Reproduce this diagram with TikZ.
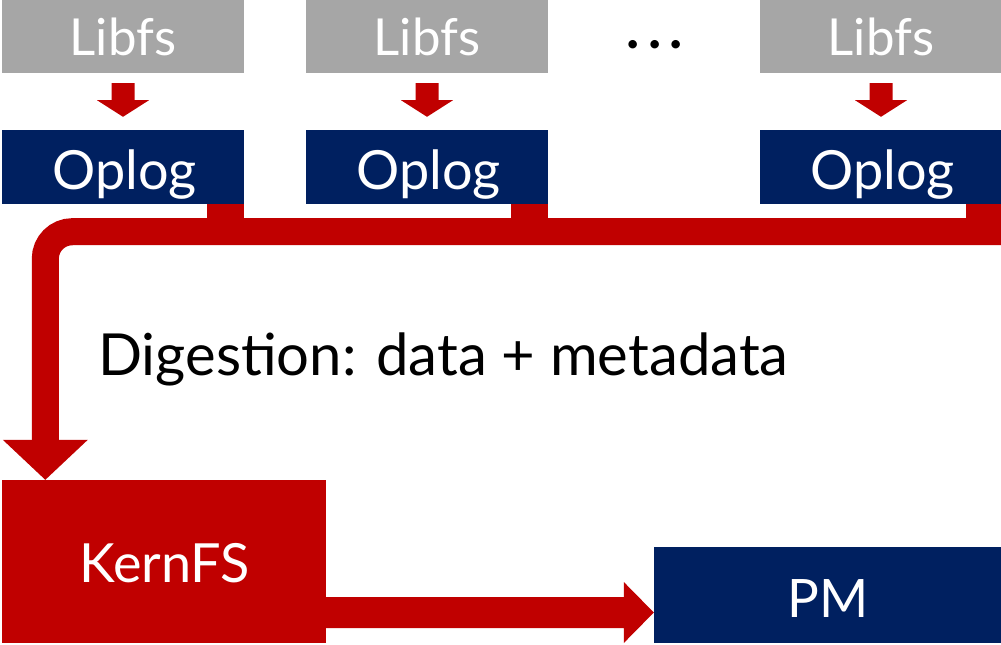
\documentclass[tikz,border=0pt]{standalone}
\usepackage{fontspec}
\setmainfont{Lato}
\usetikzlibrary{calc}
\definecolor{libgray}{HTML}{A6A6A6}
\definecolor{navy}{HTML}{002060}
\definecolor{darkred}{HTML}{C00000}
\tikzset{
  libbox/.style={fill=libgray, inner sep=0pt, minimum width=242pt, minimum height=73pt},
  logbox/.style={fill=navy, inner sep=0pt, minimum width=242pt, minimum height=74pt},
  lbl/.style={anchor=base, inner sep=0pt, text=white, font=\fontsize{51}{51}\selectfont},
  loglbl/.style={lbl, font=\fontsize{54}{54}\selectfont},
  big/.style={anchor=base west, inner sep=0pt, font=\fontsize{58}{58}\selectfont},
  redfill/.style={fill=darkred, draw=none},
  bus/.style={draw=darkred, line width=27pt, rounded corners=27pt}
}
\begin{document}
\begin{tikzpicture}[x=1pt, y=-1pt]
\useasboundingbox (0,0) rectangle (1001,645);

% client libraries
\node[libbox] (lib1) at (123,36.5) {};
\node[libbox] (lib2) at (427,36.5) {};
\node[libbox] (lib3) at (881,36.5) {};
\node[lbl] (lib1t) at (123,55) {Libfs};
\node[lbl] (lib2t) at (427,55) {Libfs};
\node[lbl] (lib3t) at (881,55) {Libfs};
\node[anchor=base, inner sep=0pt, font=\bfseries\fontsize{56}{56}\selectfont] (dots) at (655,48)
  {\makebox[21.5pt]{.}\makebox[21.5pt]{.}\makebox[21.5pt]{.}};

% operation logs
\node[logbox] (log1) at (123,167) {};
\node[logbox] (log2) at (427,167) {};
\node[logbox] (log3) at (881,167) {};
\node[loglbl] (log1t) at (124.5,189) {Oplog};
\node[loglbl] (log2t) at (428.5,189) {Oplog};
\node[loglbl] (log3t) at (882.5,189) {Oplog};

% short arrows from each Libfs to its Oplog
\foreach \i in {1,2,3}{
  \fill[darkred] ($(lib\i.south)+(-11.5,10)$) -- ($(lib\i.south)+(11.5,10)$)
    -- ($(lib\i.south)+(11.5,27)$) -- ($(lib\i.south)+(26,27)$)
    -- ($(log\i.north)+(0,-13)$) -- ($(lib\i.south)+(-26,27)$)
    -- ($(lib\i.south)+(-11.5,27)$) -- cycle;
}

% kernel file system and persistent memory
\node[fill=darkred, inner sep=0pt, minimum width=324pt, minimum height=163pt] (kern) at (164,561.5) {};
\node[fill=navy, inner sep=0pt, minimum width=347pt, minimum height=96pt] (pm) at (827.5,595) {};
\node[lbl, font=\fontsize{54}{54}\selectfont] (kernt) at (164.5,582) {KernFS};
\node[lbl, font=\fontsize{53}{53}\selectfont] (pmt) at (828,617) {PM};

% stems from each Oplog down to the shared bus
\fill[darkred] ($(log1.south east)+(-37,0)$) rectangle ($(log1.south east)+(0,14)$);
\fill[darkred] ($(log2.south east)+(-37,0)$) rectangle ($(log2.south east)+(0,14)$);
\fill[darkred] ($(log3.south east)+(-36,0)$) rectangle ($(log3.south east)+(0,14)$);

% digestion bus into KernFS
\coordinate (busend) at ($(log3.south east)+(0,27.5)$);
\coordinate (drop) at ($(kern.north west)+(43.5,-40)$);
\draw[bus] (busend) -- (drop |- busend) -- (drop);
\fill[darkred] ($(drop)+(-42.5,0)$) -- ($(drop)+(42.5,0)$) -- ($(kern.north west)+(43.5,0)$) -- cycle;

\node[big] (dig) at (98,375) {Digestion: data + metadata};

% KernFS to PM
\coordinate (tip) at (pm.west |- 0,612.5);
\fill[darkred] (kern.east |- 0,597) -- ($(tip)+(-30,-15.5)$) -- ($(tip)+(-30,-30.5)$)
  -- (tip) -- ($(tip)+(-30,30.5)$) -- ($(tip)+(-30,15.5)$) -- (kern.east |- 0,628) -- cycle;
\end{tikzpicture}
\end{document}
